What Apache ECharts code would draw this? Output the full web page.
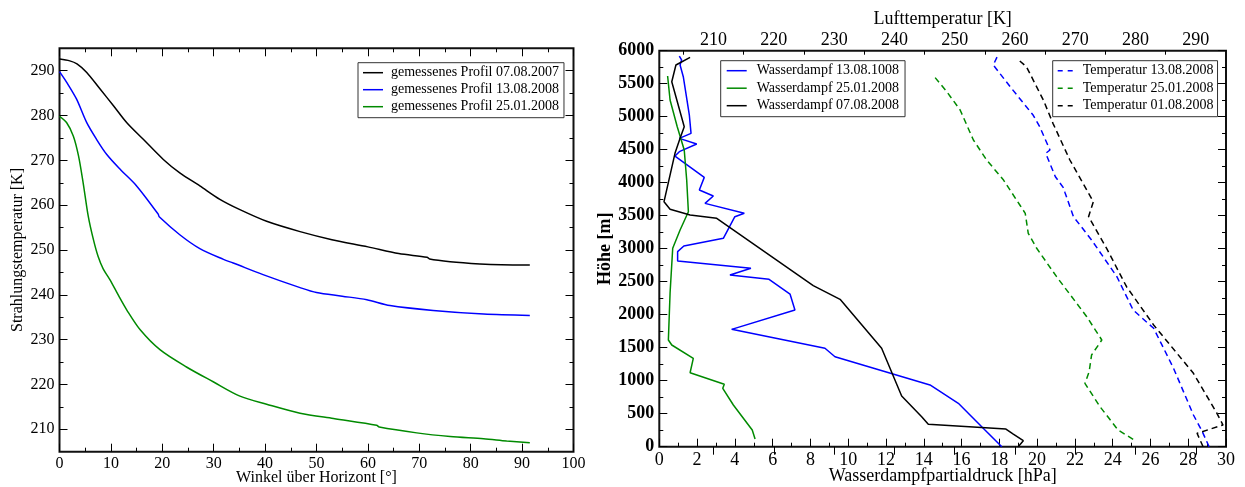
<!DOCTYPE html>
<html><head><meta charset="utf-8">
<script src="https://cdn.jsdelivr.net/npm/echarts@6/dist/echarts.min.js"></script>
<style>html,body{margin:0;padding:0;background:#fff}#c{width:1245px;height:487px}</style>
</head><body><div id="c"></div>
<script>
// ---------- Left chart: Strahlungstemperatur vs. Winkel ----------
const leftNames = ['gemessenes Profil 07.08.2007','gemessenes Profil 13.08.2008','gemessenes Profil 25.01.2008'];
const prof0708 = [[0,292.6],[2,292.2],[3.4,291.5],[5.3,289.6],[7.9,285.9],[10.5,282.2],[13.1,278.4],[16.3,274.7],[20.2,270.2],[23.4,267.2],[27.3,264.3],[31.2,261.3],[35.1,259.0],[40.3,256.4],[46.8,254.1],[53,252.3],[60,250.7],[66,249.2],[71.5,248.4],[72,248.0],[76,247.4],[81.8,246.9],[86,246.7],[91.5,246.65]];
const prof1308 = [[0,289.8],[1.4,287.4],[3.3,283.7],[5.3,278.4],[7.2,274.7],[9.2,271.3],[11.8,268.0],[15.0,264.3],[19.2,258.0],[19.4,257.4],[23.4,253.4],[27.3,250.3],[31.9,247.9],[33.8,247.1],[39.6,244.5],[46.8,241.6],[50,240.5],[55,239.7],[59.8,238.9],[64.3,237.6],[72.7,236.5],[82.5,235.7],[91.5,235.4]];
const prof2501 = [[0,279.8],[1.4,278.4],[2.7,275.4],[3.7,271.0],[4.6,265.0],[5.6,257.5],[6.6,252.3],[7.5,248.6],[8.5,245.8],[9.8,243.4],[11.5,239.8],[13.1,236.6],[15.7,232.2],[19.6,227.7],[24.7,223.9],[29.9,220.6],[35.1,217.4],[40.3,215.6],[46.8,213.6],[53.3,212.4],[61.7,210.9],[62.2,210.5],[69.5,209.2],[76,208.4],[82.5,207.9],[87,207.4],[91.5,207.0]];
const leftYMajor = [210,220,230,240,250,260,270,280,290];
const leftYMinor = [215,225,235,245,255,265,275,285];

// ---------- Right chart: Wasserdampf & Temperatur vs. Höhe ----------
const wvNames = ['Wasserdampf 13.08.1008','Wasserdampf 25.01.2008','Wasserdampf 07.08.2008'];
const tNames = ['Temperatur 13.08.2008','Temperatur 25.01.2008','Temperatur 01.08.2008'];
// [hPa, m]
const wv1308 = [[18.13,0],[17.24,253],[15.83,657],[14.33,935],[9.30,1363],[8.77,1491],[3.83,1778],[7.18,2071],[6.92,2313],[5.81,2536],[3.74,2601],[4.85,2703],[0.97,2813],[0.97,2955],[1.3,3040],[3.39,3157],[4.0,3485],[4.5,3536],[2.42,3687],[2.86,3798],[2.12,3889],[2.38,4081],[0.83,4404],[1.06,4470],[1.98,4586],[1.06,4672],[1.68,4748],[1.59,5025],[1.27,5606],[1.10,5783],[1.18,5860],[1.06,5919]];
const wv2501 = [[5.07,117],[4.92,253],[3.92,632],[3.36,885],[3.44,945],[1.63,1121],[1.80,1339],[0.66,1541],[0.48,1617],[0.57,2324],[0.71,3006],[1.10,3283],[1.54,3560],[1.45,4040],[1.32,4495],[0.95,4848],[0.57,5253],[0.44,5616]];
const wv0708 = [[19.0,0],[19.27,91],[18.74,192],[18.35,268],[14.24,339],[13.89,455],[12.83,768],[11.77,1491],[9.57,2233],[8.15,2440],[3.04,3460],[1.63,3510],[0.57,3597],[0.25,3712],[0.83,4445],[1.10,4672],[1.32,4848],[0.66,5530],[0.88,5783],[1.63,5899]];
// [K, m]
const t1308 = [[292.2,0],[291.0,242],[289.6,480],[286.3,1188],[283.0,1794],[279.6,2071],[276.9,2576],[272.7,3132],[269.7,3485],[268.3,3848],[268.1,3915],[266.7,4090],[265.1,4445],[265.8,4495],[264.1,4848],[263.0,5025],[259.2,5454],[256.4,5783],[257.1,5919]];
const t2501 = [[279.6,112],[277.1,253],[274.1,606],[271.6,960],[272.3,1136],[272.7,1389],[274.4,1617],[271.9,1970],[266.9,2576],[263.6,3006],[262.2,3233],[261.7,3536],[260.8,3662],[258.1,4040],[255.3,4344],[253.1,4647],[250.9,5101],[248.7,5378],[246.4,5631]];
const t0108 = [[291.2,0],[290.2,203],[294.5,329],[293.5,506],[289.6,1112],[283.0,1844],[278.5,2424],[275.2,3006],[272.2,3485],[273.0,3712],[269.1,4344],[266.3,4899],[264.7,5253],[261.9,5757],[260.3,5884]];
const topMajor = [210,220,230,240,250,260,270,280,290];
const topMinor = [205,215,225,235,245,255,265,275,285];

const FONT = 'Liberation Serif';
const BLACK = '#000000', BLUE = '#0000ff', GREEN = '#008a00';
const tickBase = {inside:true, lineStyle:{color:'#000', width:1}};
const SOLID_ICON = 'path://M0,0H20V1.5H0Z';
const DASH_ICON = 'path://M0,0H5V1.5H0Z M10,0H15V1.5H10Z';
const plain = v => String(v);

const chart = echarts.init(document.getElementById('c'), null, {renderer:'canvas'});
const line = (name, data, color, xi, yi, dashed) => ({
  type:'line', name, data, xAxisIndex:xi, yAxisIndex:yi, symbol:'none', smooth:false,
  lineStyle:{color, width:1.5, type: dashed ? [6,4] : 'solid'}, itemStyle:{color},
  emphasis:{disabled:true}, animation:false, z:3
});

chart.setOption({
  animation:false,
  backgroundColor:'#fff',
  textStyle:{fontFamily:FONT},
  grid:[
    {left:59.5, top:48.3, width:514, height:403.4, show:true, borderColor:'#111', borderWidth:2, backgroundColor:'transparent', outerBoundsMode:'none', containLabel:false},
    {left:659.3, top:50.7, width:566.7, height:396, show:true, borderColor:'#111', borderWidth:2, backgroundColor:'transparent', outerBoundsMode:'none', containLabel:false}
  ],
  legend:[
    {data:leftNames, orient:'vertical', left:358, top:62.7, icon:SOLID_ICON, itemWidth:20, itemHeight:14, itemGap:3,
     padding:[3,5,4,5], borderColor:'#333', borderWidth:1, backgroundColor:'#fff',
     textStyle:{fontFamily:FONT, fontSize:14, color:'#000', padding:[0,0,0,3]}, selectedMode:false},
    {data:wvNames, orient:'vertical', left:720.7, top:60.7, icon:SOLID_ICON, itemWidth:20, itemHeight:14, itemGap:3.5,
     padding:[3,6,4,6], borderColor:'#333', borderWidth:1, backgroundColor:'#fff',
     textStyle:{fontFamily:FONT, fontSize:14, color:'#000', padding:[0,0,0,5]}, selectedMode:false},
    {data:tNames, orient:'vertical', left:1052.7, top:60.7, icon:DASH_ICON, itemWidth:15, itemHeight:14, itemGap:3.5,
     padding:[3,4,4,5], borderColor:'#333', borderWidth:1, backgroundColor:'#fff',
     textStyle:{fontFamily:FONT, fontSize:14, color:'#000', padding:[0,0,0,5]}, selectedMode:false}
  ],
  xAxis:[
    {gridIndex:0, type:'value', position:'bottom', min:0, max:100, interval:10,
     axisLine:{show:false}, splitLine:{show:false},
     axisTick:Object.assign({length:8}, tickBase),
     minorTick:{show:true, splitNumber:2, length:4, lineStyle:{color:'#000'}},
     axisLabel:{fontFamily:FONT, fontSize:16, color:'#000', margin:4, formatter:plain},
     name:'Winkel über Horizont [°]', nameLocation:'middle', nameGap:18, nameMoveOverlap:false,
     nameTextStyle:{fontFamily:FONT, fontSize:16, color:'#000'}},
    {gridIndex:0, type:'value', position:'top', min:0, max:100, interval:10,
     axisLine:{show:false}, splitLine:{show:false}, axisLabel:{show:false},
     axisTick:Object.assign({length:8}, tickBase),
     minorTick:{show:true, splitNumber:2, length:4, lineStyle:{color:'#000'}}},
    {gridIndex:1, type:'value', position:'bottom', min:0, max:30, interval:2,
     axisLine:{show:false}, splitLine:{show:false},
     axisTick:Object.assign({length:8}, tickBase),
     minorTick:{show:true, splitNumber:2, length:4, lineStyle:{color:'#000'}},
     axisLabel:{fontFamily:FONT, fontSize:18, color:'#000', margin:5, formatter:plain},
     name:'Wasserdampfpartialdruck [hPa]', nameLocation:'middle', nameGap:21, nameMoveOverlap:false,
     nameTextStyle:{fontFamily:FONT, fontSize:18, color:'#000'}},
    {gridIndex:1, type:'value', position:'top', min:201, max:295,
     axisLine:{show:false}, splitLine:{show:false},
     axisTick:Object.assign({length:8, customValues:topMajor}, tickBase),
     axisLabel:{fontFamily:FONT, fontSize:18, color:'#000', margin:1, customValues:topMajor, formatter:plain},
     name:'Lufttemperatur [K]', nameLocation:'middle', nameGap:22, nameMoveOverlap:false,
     nameTextStyle:{fontFamily:FONT, fontSize:18, color:'#000'}},
    {gridIndex:1, type:'value', position:'top', min:201, max:295,
     axisLine:{show:false}, splitLine:{show:false}, axisLabel:{show:false},
     axisTick:Object.assign({length:4, customValues:topMinor}, tickBase)}
  ],
  yAxis:[
    {gridIndex:0, type:'value', position:'left', min:205, max:295,
     axisLine:{show:false}, splitLine:{show:false},
     axisTick:Object.assign({length:8, customValues:leftYMajor}, tickBase),
     axisLabel:{fontFamily:FONT, fontSize:16, color:'#000', margin:5, customValues:leftYMajor, formatter:plain},
     name:'Strahlungstemperatur [K]', nameLocation:'middle', nameGap:34, nameRotate:90,
     nameTextStyle:{fontFamily:FONT, fontSize:16, color:'#000'}},
    {gridIndex:0, type:'value', position:'left', min:205, max:295,
     axisLine:{show:false}, splitLine:{show:false}, axisLabel:{show:false},
     axisTick:Object.assign({length:4, customValues:leftYMinor}, tickBase)},
    {gridIndex:0, type:'value', position:'right', min:205, max:295,
     axisLine:{show:false}, splitLine:{show:false}, axisLabel:{show:false},
     axisTick:Object.assign({length:8, customValues:leftYMajor}, tickBase)},
    {gridIndex:0, type:'value', position:'right', min:205, max:295,
     axisLine:{show:false}, splitLine:{show:false}, axisLabel:{show:false},
     axisTick:Object.assign({length:4, customValues:leftYMinor}, tickBase)},
    {gridIndex:1, type:'value', position:'left', min:0, max:6000, interval:500,
     axisLine:{show:false}, splitLine:{show:false},
     axisTick:Object.assign({length:8}, tickBase),
     minorTick:{show:true, splitNumber:2, length:4, lineStyle:{color:'#000'}},
     axisLabel:{fontFamily:FONT, fontSize:18, fontWeight:'bold', color:'#000', margin:5, formatter:plain},
     name:'Höhe [m]', nameLocation:'middle', nameGap:45, nameRotate:90,
     nameTextStyle:{fontFamily:FONT, fontSize:18, fontWeight:'bold', color:'#000'}},
    {gridIndex:1, type:'value', position:'right', min:0, max:6000, interval:500,
     axisLine:{show:false}, splitLine:{show:false}, axisLabel:{show:false},
     axisTick:Object.assign({length:8}, tickBase),
     minorTick:{show:true, splitNumber:2, length:4, lineStyle:{color:'#000'}}}
  ],
  series:[
    Object.assign(line(leftNames[0], prof0708, BLACK, 0, 0), {smooth:0.3}),
    Object.assign(line(leftNames[1], prof1308, BLUE, 0, 0), {smooth:0.3}),
    Object.assign(line(leftNames[2], prof2501, GREEN, 0, 0), {smooth:0.3}),
    line(wvNames[0], wv1308, BLUE, 2, 4),
    line(wvNames[1], wv2501, GREEN, 2, 4),
    line(wvNames[2], wv0708, BLACK, 2, 4),
    line(tNames[0], t1308, BLUE, 3, 4, true),
    line(tNames[1], t2501, GREEN, 3, 4, true),
    line(tNames[2], t0108, BLACK, 3, 4, true)
  ]
});
</script>
</body></html>
